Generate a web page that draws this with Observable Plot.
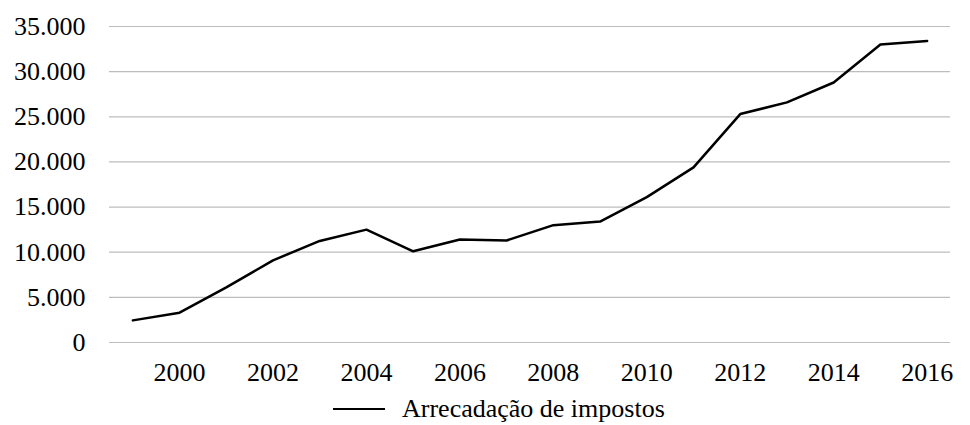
<!DOCTYPE html>
<html>
<head>
<meta charset="utf-8">
<script src="https://cdn.jsdelivr.net/npm/d3@7"></script>
<script src="https://cdn.jsdelivr.net/npm/@observablehq/plot@0.6"></script>
<style>
  html, body { margin: 0; padding: 0; background: #fff; }
  body { width: 970px; height: 425px; overflow: hidden; font-family: "Liberation Serif", "DejaVu Serif", serif; }
  #legend { display: flex; align-items: center; margin-left: 333px; margin-top: 2px; font-size: 26px; color: #000; line-height: 30px; }
  #legend .sw { width: 52px; height: 0; border-top: 2.5px solid #000; margin-right: 17px; }
</style>
</head>
<body>
<div id="chart"></div>
<div id="legend"><span class="sw"></span><span>Arrecadação de impostos</span></div>
<script>
const years = [1999, 2000, 2001, 2002, 2003, 2004, 2005, 2006, 2007, 2008, 2009, 2010, 2011, 2012, 2013, 2014, 2015, 2016];
const arrecadacao = [2450, 3300, 6100, 9100, 11250, 12500, 10100, 11400, 11300, 13000, 13400, 16100, 19400, 25300, 26600, 28800, 33000, 33400];
const yTicks = [0, 5000, 10000, 15000, 20000, 25000, 30000, 35000];
const xTickLabels = [2000, 2002, 2004, 2006, 2008, 2010, 2012, 2014, 2016];
const seriesName = "Arrecadação de impostos";

const data = years.map((y, i) => ({year: y, value: arrecadacao[i]}));
const fmt = d => d === 0 ? "0" : d3.format(",")(d).replace(/,/g, ".");

const chart = Plot.plot({
  width: 970,
  height: 392,
  marginLeft: 109,
  marginRight: 20,
  marginTop: 26,
  marginBottom: 50,
  style: {fontFamily: "'Liberation Serif', 'DejaVu Serif', serif", fontSize: "26px", color: "#000", background: "#fff"},
  x: {type: "point", domain: years, padding: 0.5, round: false, label: null},
  y: {domain: [0, 35000], label: null},
  marks: [
    Plot.ruleY(yTicks, {stroke: "#bdbdbd", strokeWidth: 1.2}),
    Plot.axisY({ticks: yTicks, tickSize: 0, tickPadding: 24, tickFormat: fmt, fontSize: 26, label: null}),
    Plot.axisX({ticks: xTickLabels, tickSize: 0, tickPadding: 20, tickFormat: d => String(d), fontSize: 26, label: null}),
    Plot.lineY(data, {x: "year", y: "value", stroke: "#000", strokeWidth: 2.5})
  ]
});
document.getElementById("chart").appendChild(chart);
document.getElementById("legend").lastChild.textContent = seriesName;
</script>
</body>
</html>
